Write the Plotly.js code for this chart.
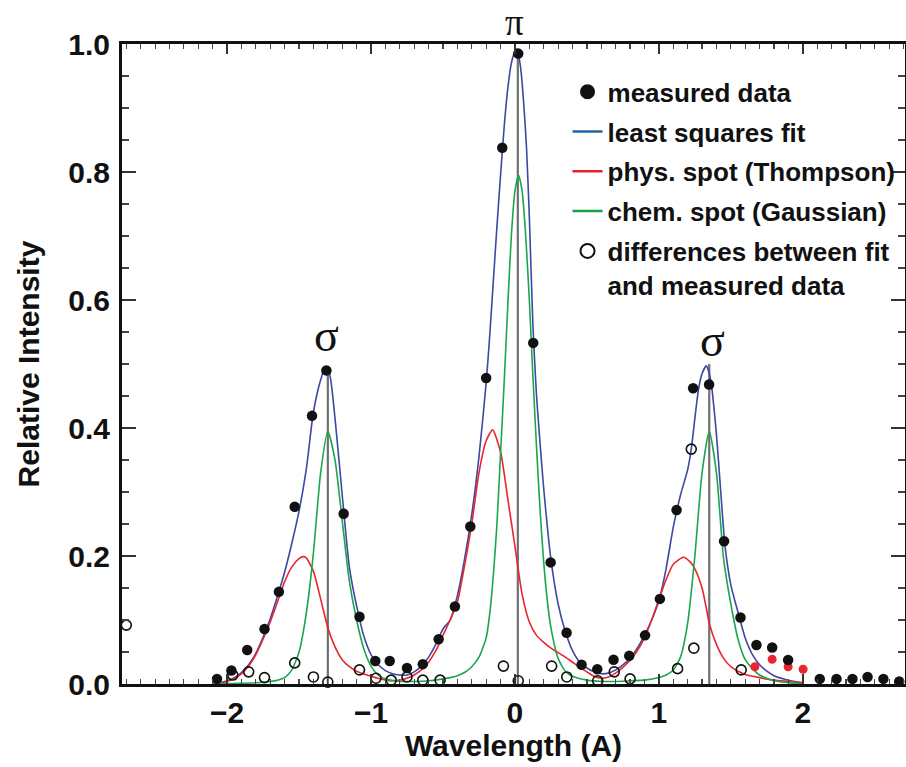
<!DOCTYPE html>
<html>
<head>
<meta charset="utf-8">
<script src="https://cdn.plot.ly/plotly-3.0.1.min.js"></script>
<style>html,body{margin:0;padding:0;background:#fff;}#chart{width:906px;height:767px;}</style>
</head>
<body>
<div id="chart"></div>
<script>
// ---- data ----
const measX = [-2.07,-1.97,-1.86,-1.74,-1.64,-1.53,-1.41,-1.31,-1.19,-1.08,-0.97,-0.87,-0.75,-0.64,-0.53,-0.417,-0.31,-0.20,-0.088,0.023,0.127,0.248,0.359,0.463,0.572,0.685,0.794,0.904,1.007,1.123,1.238,1.349,1.453,1.567,1.678,1.787,1.898,2.118,2.234,2.345,2.45,2.56,2.67];
const measY = [0.008,0.021,0.053,0.086,0.144,0.277,0.419,0.490,0.266,0.105,0.036,0.036,0.025,0.031,0.070,0.121,0.246,0.478,0.838,0.985,0.533,0.190,0.080,0.030,0.023,0.038,0.044,0.076,0.133,0.272,0.462,0.468,0.223,0.104,0.061,0.057,0.0375,0.008,0.008,0.008,0.011,0.008,0.004];

const diffX = [-2.70,-1.96,-1.85,-1.74,-1.53,-1.40,-1.30,-1.08,-0.965,-0.86,-0.75,-0.64,-0.52,-0.08,0.023,0.255,0.36,0.575,0.69,0.80,1.13,1.225,1.243,1.572];
const diffY = [0.092,0.014,0.019,0.010,0.033,0.011,0.003,0.022,0.009,0.006,0.011,0.006,0.006,0.028,0.005,0.028,0.011,0.005,0.019,0.008,0.024,0.367,0.056,0.022];

const rejX = [1.667,1.787,1.898,2.002];
const rejY = [0.027,0.0385,0.027,0.023];

const fitX = [-2.10,-2.05,-2.00,-1.95,-1.90,-1.85,-1.80,-1.75,-1.70,-1.65,-1.60,-1.55,-1.50,-1.45,-1.40,-1.35,-1.32,-1.29,-1.25,-1.20,-1.15,-1.10,-1.05,-1.00,-0.95,-0.90,-0.85,-0.80,-0.75,-0.70,-0.65,-0.60,-0.55,-0.50,-0.45,-0.40,-0.35,-0.30,-0.25,-0.20,-0.175,-0.15,-0.125,-0.10,-0.075,-0.05,-0.025,0.00,0.015,0.04,0.06,0.08,0.10,0.125,0.15,0.175,0.20,0.25,0.30,0.35,0.40,0.45,0.50,0.55,0.60,0.65,0.70,0.75,0.80,0.85,0.90,0.95,1.00,1.05,1.10,1.15,1.20,1.225,1.25,1.275,1.30,1.33,1.36,1.40,1.43,1.46,1.50,1.55,1.60,1.65,1.70,1.75,1.80,1.90,2.00];
const fitY = [0.000,0.002,0.005,0.010,0.018,0.030,0.048,0.073,0.102,0.137,0.175,0.220,0.270,0.335,0.425,0.475,0.493,0.486,0.415,0.295,0.182,0.122,0.075,0.046,0.030,0.021,0.016,0.014,0.014,0.019,0.028,0.042,0.062,0.086,0.100,0.138,0.195,0.265,0.355,0.470,0.545,0.630,0.715,0.795,0.870,0.930,0.970,0.988,0.992,0.962,0.910,0.840,0.730,0.560,0.450,0.375,0.305,0.195,0.125,0.082,0.052,0.034,0.025,0.019,0.016,0.017,0.022,0.030,0.040,0.056,0.076,0.100,0.130,0.180,0.245,0.295,0.335,0.367,0.415,0.460,0.485,0.497,0.475,0.390,0.300,0.215,0.155,0.112,0.072,0.046,0.030,0.020,0.013,0.006,0.002];

const physX = [-2.10,-2.00,-1.95,-1.90,-1.85,-1.80,-1.75,-1.70,-1.65,-1.60,-1.55,-1.50,-1.47,-1.45,-1.40,-1.35,-1.30,-1.25,-1.20,-1.15,-1.10,-1.00,-0.90,-0.85,-0.80,-0.75,-0.70,-0.65,-0.60,-0.55,-0.50,-0.45,-0.40,-0.35,-0.30,-0.25,-0.20,-0.155,-0.10,-0.05,0.00,0.05,0.10,0.15,0.20,0.25,0.30,0.35,0.40,0.45,0.50,0.55,0.60,0.65,0.70,0.75,0.80,0.85,0.90,0.95,1.00,1.05,1.10,1.17,1.22,1.25,1.30,1.33,1.35,1.40,1.45,1.50,1.55,1.60,1.70,1.80,1.90,2.00];
const physY = [0.000,0.004,0.009,0.016,0.028,0.046,0.070,0.097,0.128,0.160,0.183,0.196,0.199,0.197,0.176,0.133,0.088,0.058,0.038,0.027,0.020,0.012,0.006,0.005,0.006,0.009,0.014,0.022,0.034,0.052,0.076,0.100,0.128,0.185,0.250,0.330,0.380,0.397,0.363,0.290,0.215,0.140,0.097,0.076,0.065,0.056,0.049,0.042,0.034,0.026,0.019,0.012,0.009,0.011,0.017,0.026,0.037,0.052,0.072,0.100,0.132,0.163,0.187,0.198,0.190,0.180,0.150,0.118,0.095,0.062,0.040,0.027,0.020,0.015,0.010,0.006,0.004,0.002];

const chemX = [-2.10,-1.90,-1.80,-1.70,-1.65,-1.60,-1.55,-1.50,-1.45,-1.40,-1.35,-1.30,-1.25,-1.20,-1.15,-1.10,-1.05,-1.00,-0.95,-0.90,-0.80,-0.70,-0.60,-0.50,-0.45,-0.40,-0.35,-0.30,-0.25,-0.20,-0.175,-0.15,-0.125,-0.10,-0.075,-0.05,-0.025,0.00,0.025,0.05,0.075,0.10,0.125,0.15,0.175,0.20,0.225,0.25,0.30,0.35,0.40,0.50,0.60,0.70,0.80,0.90,1.00,1.05,1.10,1.15,1.20,1.25,1.30,1.35,1.40,1.45,1.50,1.55,1.60,1.65,1.70,1.80,1.90,2.00];
const chemY = [0.000,0.001,0.002,0.004,0.006,0.010,0.022,0.050,0.110,0.205,0.330,0.395,0.350,0.255,0.160,0.100,0.055,0.028,0.014,0.008,0.004,0.004,0.005,0.008,0.010,0.013,0.018,0.027,0.042,0.072,0.110,0.170,0.250,0.360,0.470,0.590,0.700,0.770,0.795,0.770,0.700,0.600,0.480,0.370,0.270,0.190,0.130,0.088,0.040,0.020,0.012,0.006,0.004,0.004,0.005,0.006,0.010,0.014,0.022,0.042,0.095,0.200,0.330,0.395,0.330,0.195,0.125,0.070,0.038,0.024,0.014,0.005,0.002,0.000];

const lineX = [-1.30,-1.30,null,0.02,0.02,null,1.35,1.35];
const lineY = [0,0.49,null,0,0.985,null,0,0.50];

const xTicks = [-2,-1,0,1,2];
const legendNames = ['measured data','least squares fit','phys. spot (Thompson)','chem. spot (Gaussian)','differences between fit<br>and measured data'];

// ---- drawing ----
const SANS = 'Liberation Sans, Arial, sans-serif';
const SERIF = 'Liberation Serif, DejaVu Serif, serif';
const C_FIT = '#3d48a3', C_PHYS = '#e8262e', C_CHEM = '#19a64c', C_INK = '#111111';

const traces = [
  {x: lineX, y: lineY, mode: 'lines', line: {color: '#707070', width: 2.2}, showlegend: false, hoverinfo: 'skip'},
  {x: fitX, y: fitY, mode: 'lines', line: {color: C_FIT, width: 1.6, shape: 'spline', smoothing: 0.6}, showlegend: false},
  {x: physX, y: physY, mode: 'lines', line: {color: C_PHYS, width: 1.6, shape: 'spline', smoothing: 0.6}, showlegend: false},
  {x: chemX, y: chemY, mode: 'lines', line: {color: C_CHEM, width: 1.6, shape: 'spline', smoothing: 0.6}, showlegend: false},
  {x: rejX, y: rejY, mode: 'markers', marker: {color: C_PHYS, size: 9}, showlegend: false, cliponaxis: false},
  {x: measX, y: measY, mode: 'markers', marker: {color: C_INK, size: 10.5}, showlegend: false, cliponaxis: false},
  {x: diffX, y: diffY, mode: 'markers', marker: {color: C_INK, size: 10, symbol: 'circle-open', line: {color: C_INK, width: 1.6}}, showlegend: false, cliponaxis: false},
  // legend entries
  {x: [null], y: [null], mode: 'markers', marker: {color: C_INK, size: 15}, name: legendNames[0], legendgroup: 'a', legendrank: 1},
  {x: [null], y: [null], mode: 'lines', line: {color: '#1f64a6', width: 2.5}, name: legendNames[1], legendgroup: 'b', legendrank: 2},
  {x: [null], y: [null], mode: 'lines', line: {color: '#ec1f2a', width: 2.5}, name: legendNames[2], legendgroup: 'c', legendrank: 3},
  {x: [null], y: [null], mode: 'lines', line: {color: '#14a34a', width: 2.5}, name: legendNames[3], legendgroup: 'd', legendrank: 4},
  {x: [null], y: [null], mode: 'markers', marker: {color: C_INK, size: 14, symbol: 'circle-open', line: {color: C_INK, width: 2}}, name: legendNames[4], legendgroup: 'e', legendrank: 5}
];

const tickFont = {family: SANS, size: 30, weight: 'bold', color: C_INK};
const titleFont = {family: SANS, size: 30, weight: 'bold', color: C_INK};

const layout = {
  width: 906, height: 767,
  margin: {l: 122, r: 1, t: 44, b: 83, autoexpand: false},
  paper_bgcolor: '#fff', plot_bgcolor: '#fff',
  showlegend: true,
  legend: {
    x: 0.569, y: 0.962, xanchor: 'left', yanchor: 'top',
    font: {family: SANS, size: 26, weight: 'bold', color: C_INK},
    bgcolor: 'rgba(0,0,0,0)', borderwidth: 0,
    tracegroupgap: 3, valign: 'top', itemwidth: 30
  },
  xaxis: {
    range: [-2.73, 2.71], tickvals: xTicks, ticks: 'inside', ticklen: 10, tickwidth: 1.5, tickcolor: '#333',
    showline: true, linewidth: 3, linecolor: C_INK, mirror: 'ticks',
    minor: {dtick: 0.1, tick0: 0, ticks: 'inside', ticklen: 5, tickwidth: 1.2, tickcolor: '#444'},
    showgrid: false, zeroline: false, tickfont: tickFont, ticklabelstandoff: 0, automargin: false,
    title: {text: 'Wavelength (A)', font: titleFont, standoff: 5}
  },
  yaxis: {
    range: [0, 1.0], dtick: 0.2, tick0: 0, tickformat: '.1f', ticks: 'inside', ticklen: 14, tickwidth: 1.5, tickcolor: '#333',
    showline: true, linewidth: 3, linecolor: C_INK, mirror: 'ticks',
    minor: {dtick: 0.05, tick0: 0, ticks: 'inside', ticklen: 7, tickwidth: 1.2, tickcolor: '#444'},
    showgrid: false, zeroline: false, tickfont: tickFont, ticklabelstandoff: 3, automargin: false,
    title: {text: 'Relative Intensity', font: titleFont, standoff: 20}
  },
  annotations: [
    {x: 0, y: 1.034, xref: 'x', yref: 'paper', xanchor: 'center', yanchor: 'middle', text: 'π', showarrow: false, font: {family: SERIF, size: 37, color: C_INK}},
    {x: -1.31, y: 0.545, xref: 'x', yref: 'y', xanchor: 'center', yanchor: 'middle', text: 'σ', showarrow: false, font: {family: SERIF, size: 46, color: C_INK}},
    {x: 1.37, y: 0.537, xref: 'x', yref: 'y', xanchor: 'center', yanchor: 'middle', text: 'σ', showarrow: false, font: {family: SERIF, size: 46, color: C_INK}}
  ]
};

Plotly.newPlot('chart', traces, layout, {displayModeBar: false, staticPlot: true});
</script>
</body>
</html>
